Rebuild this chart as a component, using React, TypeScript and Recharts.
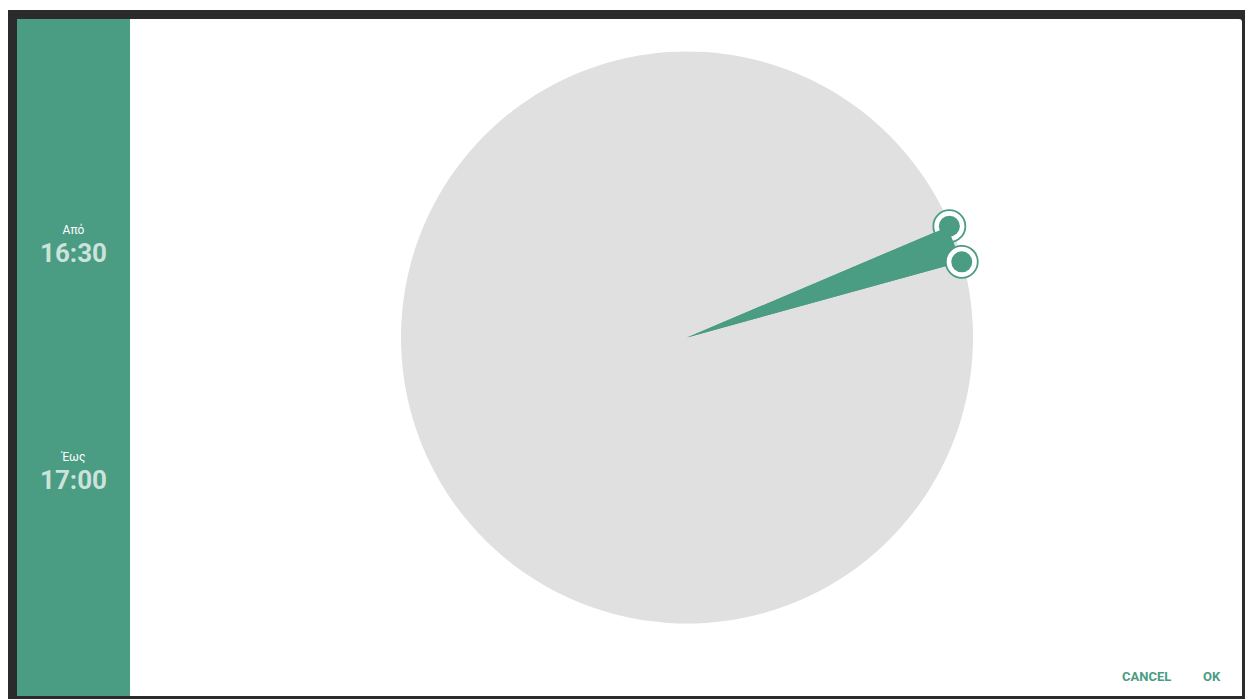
import React from "react";
import { PieChart, Pie, Cell, Sector } from "recharts";

const GREEN = "#4a9c82";
const GRAY = "#e0e0e0";

// dial background (one full slice)
const dialData = [{ name: "dial", value: 1 }];
// selected range on the dial, as angles (degrees, counter-clockwise from 3 o'clock)
const rangeStartDeg = [15.4];
const rangeEndDeg = [23.0];
const rangeData = [{ name: "16:30–17:00", value: 30 }];
// sidebar labels
const fromLabel = "Από";
const fromTime = "16:30";
const toLabel = "Έως";
const toTime = "17:00";
const buttonLabels = ["CANCEL", "OK"];

const RAD = Math.PI / 180;

const Handle = ({ x, y }: { x: number; y: number }) => (
  <g>
    <circle cx={x} cy={y} r={16} fill="#ffffff" stroke={GREEN} strokeWidth={1.8} />
    <circle cx={x} cy={y} r={10.5} fill={GREEN} />
  </g>
);

const renderHandles = (props: any) => {
  const { cx, cy, startAngle, endAngle, outerRadius, index } = props;
  const r = 285;
  const pos = (a: number) => ({
    x: cx + r * Math.cos(-a * RAD),
    y: cy + r * Math.sin(-a * RAD),
  });
  const pEnd = pos(endAngle);
  const pStart = pos(startAngle);
  return (
    <g key={`h-${index}`}>
      <Handle x={pEnd.x} y={pEnd.y} />
      <Sector
        cx={cx}
        cy={cy}
        innerRadius={0}
        outerRadius={outerRadius}
        startAngle={startAngle}
        endAngle={endAngle}
        fill={GREEN}
        stroke="none"
      />
      <Handle x={pStart.x} y={pStart.y} />
    </g>
  );
};

export default function App() {
  return (
    <div
      style={{
        position: "fixed",
        left: 0,
        top: 0,
        width: 1247,
        height: 699,
        background: "#ffffff",
        fontFamily: "Roboto, 'Noto Sans', sans-serif",
        overflow: "hidden",
      }}
    >
      <div style={{ position: "absolute", left: 8, top: 10, width: 1237, height: 689, background: "#2b2b2d" }} />
      <div style={{ position: "absolute", left: 17, top: 19, width: 1225, height: 677, background: "#ffffff", borderTopRightRadius: 3 }} />
      <div style={{ position: "absolute", left: 17, top: 19, width: 113, height: 677, background: GREEN }}>
        <div style={{ position: "absolute", left: 0, width: 113, top: 204, textAlign: "center", color: "#ffffff", fontSize: 12 }}>{fromLabel}</div>
        <div style={{ position: "absolute", left: 0, width: 113, top: 219, textAlign: "center", color: "rgba(255,255,255,0.72)", fontSize: 26, fontWeight: 700 }}>{fromTime}</div>
        <div style={{ position: "absolute", left: 0, width: 113, top: 431, textAlign: "center", color: "#ffffff", fontSize: 12 }}>{toLabel}</div>
        <div style={{ position: "absolute", left: 0, width: 113, top: 446, textAlign: "center", color: "rgba(255,255,255,0.72)", fontSize: 26, fontWeight: 700 }}>{toTime}</div>
      </div>
      <div style={{ position: "absolute", left: 130, top: 19 }}>
        <PieChart width={1112} height={677} margin={{ top: 0, right: 0, bottom: 0, left: 0 }}>
          <Pie
            data={dialData}
            dataKey="value"
            cx={557}
            cy={318.5}
            innerRadius={0}
            outerRadius={286}
            startAngle={0}
            endAngle={360}
            stroke="none"
            isAnimationActive={false}
          >
            <Cell fill={GRAY} />
          </Pie>
          <Pie
            data={rangeData}
            dataKey="value"
            cx={557}
            cy={318.5}
            innerRadius={0}
            outerRadius={283}
            startAngle={rangeStartDeg[0]}
            endAngle={rangeEndDeg[0]}
            stroke="none"
            label={renderHandles}
            labelLine={false}
            isAnimationActive={false}
          >
            <Cell fill={GREEN} />
          </Pie>
        </PieChart>
      </div>
      <div style={{ position: "absolute", left: 1122, top: 669, color: GREEN, fontSize: 13, fontWeight: 700 }}>{buttonLabels[0]}</div>
      <div style={{ position: "absolute", left: 1203, top: 669, color: GREEN, fontSize: 13, fontWeight: 700 }}>{buttonLabels[1]}</div>
    </div>
  );
}
